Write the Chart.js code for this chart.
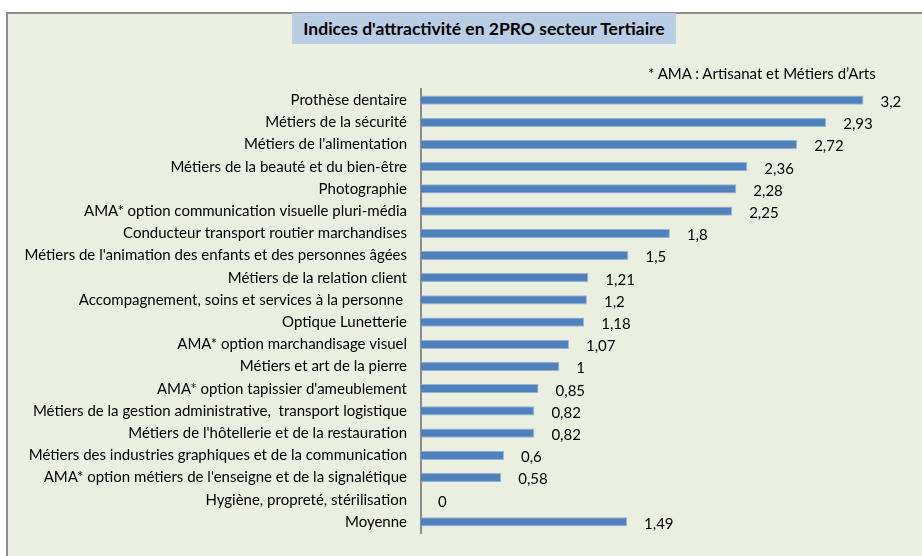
<!DOCTYPE html>
<html lang="fr">
  <head>
    <meta charset="UTF-8" />
    <title>Indices d'attractivité en 2PRO secteur Tertiaire</title>
    <script src="https://cdn.jsdelivr.net/npm/chart.js"></script>
    <style>
      body { margin: 0; background: #fff; font-family: Lato, "Liberation Sans", sans-serif; }
      .frame {
        position: absolute; left: 6px; top: 12px; width: 930px; height: 560px;
        background: #ebefdf; border-left: 2px solid #8c8c8c; border-top: 2px solid #8c8c8c;
      }
      .title {
        position: absolute; left: 292px; top: 13px; width: 384px; height: 31px;
        background: #b9cde5; font-weight: bold; font-size: 17.5px; line-height: 31px;
        text-align: center; color: #000; white-space: nowrap;
      }
      .note {
        position: absolute; left: 648px; top: 64px; font-size: 15px; color: #000; white-space: nowrap;
      }
      .wrap { position: absolute; left: 0; top: 0; width: 922px; height: 556px; }
    </style>
  </head>
  <body>
    <div class="frame"></div>
    <div class="wrap"><canvas id="chart"></canvas></div>
    <div class="title">Indices d'attractivité en 2PRO secteur Tertiaire</div>
    <div class="note">* AMA : Artisanat et Métiers d’Arts</div>

    <script>
      const categories = [
        "Prothèse dentaire",
        "Métiers de la sécurité",
        "Métiers de l'alimentation",
        "Métiers de la beauté et du bien-être",
        "Photographie",
        "AMA* option communication visuelle pluri-média",
        "Conducteur transport routier marchandises",
        "Métiers de l'animation des enfants et des personnes âgées",
        "Métiers de la relation client",
        "Accompagnement, soins et services à la personne ",
        "Optique Lunetterie",
        "AMA* option marchandisage visuel",
        "Métiers et art de la pierre",
        "AMA* option tapissier d'ameublement",
        "Métiers de la gestion administrative,  transport logistique",
        "Métiers de l'hôtellerie et de la restauration",
        "Métiers des industries graphiques et de la communication",
        "AMA* option métiers de l'enseigne et de la signalétique",
        "Hygiène, propreté, stérilisation",
        "Moyenne",
      ];
      const values = [
        3.2, 2.93, 2.72, 2.36, 2.28, 2.25, 1.8, 1.5, 1.21, 1.2,
        1.18, 1.07, 1, 0.85, 0.82, 0.82, 0.6, 0.58, 0, 1.49,
      ];
      const axisMax = 3.5;

      // value labels at the end of each bar, french decimal comma
      const valueLabels = {
        id: "valueLabels",
        afterDatasetsDraw(chart) {
          const ctx = chart.ctx;
          const meta = chart.getDatasetMeta(0);
          ctx.save();
          ctx.font = "15px Lato, 'Liberation Sans', sans-serif";
          ctx.fillStyle = "#000";
          ctx.textAlign = "left";
          ctx.textBaseline = "middle";
          meta.data.forEach((bar, i) => {
            const txt = String(values[i]).replace(".", ",");
            ctx.fillText(txt, bar.x + 17, bar.y + 2);
          });
          ctx.restore();
        },
      };

      new Chart(document.getElementById("chart"), {
        type: "bar",
        data: {
          labels: categories,
          datasets: [
            {
              data: values,
              backgroundColor: "#4f81bd",
              borderColor: "#9bb5d8",
              borderWidth: 1,
              barPercentage: 0.42,
              categoryPercentage: 1,
            },
          ],
        },
        options: {
          indexAxis: "y",
          responsive: true,
          maintainAspectRatio: false,
          animation: false,
          layout: { padding: { top: 89, bottom: 21, right: 17, left: 0 } },
          plugins: {
            legend: { display: false },
            tooltip: { enabled: false },
          },
          scales: {
            x: { display: false, min: 0, max: axisMax },
            y: {
              afterFit: (scale) => { scale.width = 421; },
              grid: { display: false, drawTicks: false },
              border: { display: true, color: "#8c8c8c", width: 2 },
              ticks: {
                padding: 14,
                color: "#000",
                autoSkip: false,
                font: { family: "Lato, 'Liberation Sans', sans-serif", size: 15 },
              },
            },
          },
        },
        plugins: [valueLabels],
      });
    </script>
  </body>
</html>
